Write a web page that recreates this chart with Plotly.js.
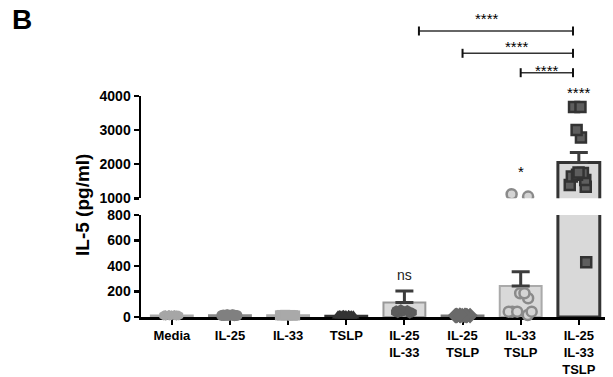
<!DOCTYPE html>
<html><head><meta charset="utf-8">
<script src="https://cdn.plot.ly/plotly-3.0.1.min.js"></script>
<style>html,body{margin:0;padding:0;background:#fff}#chart{width:613px;height:377px}</style>
</head><body><div id="chart"></div>
<script>
// ---- data ----
const categories = ["Media","IL-25","IL-33","TSLP","IL-25<br>IL-33","IL-25<br>TSLP","IL-33<br>TSLP","IL-25<br>IL-33<br>TSLP"];
const valsMedia      = [10,14,12,16,11,13,15,12,14,10,13,15];
const valsIL25       = [12,15,18,10,14,16,13,11,17,12,15,14];
const valsIL33       = [14,16,12,15,13,17,11,14,16,12,15,13];
const valsTSLP       = [8,11,10,12,9,13,10,11,12,9,10,11];
const valsIL25IL33   = [55,48,40,35,60,45,30,50,38,42,25,52];
const valsIL25TSLP   = [10,12,14,11,13,12,10,14,11,13,12,11];
const valsIL33TSLP   = [1050,1120,186,147,186,42,42,42,42,16];
const valsTriple     = [3680,3680,3000,2780,1760,1740,1690,1640,1540,1390,1340,430];
const barMeans = [12,14,14,10,114,12,243,2050];
const barSEM   = [1,1,1,1,90,1,112,290];
const lowerTicks = [0,200,400,600,800];
const upperTicks = [1000,2000,3000,4000];
const sigLabels = ["ns","*","****"];

const groupValues = [valsMedia,valsIL25,valsIL33,valsTSLP,valsIL25IL33,valsIL25TSLP,valsIL33TSLP,valsTriple];

// ---- styles ----
const FONT = "Liberation Sans, Arial, sans-serif";
const BREAK_LOW = 800;
const markerStyles = [
  {symbol:'hexagon', color:'#a6a6a6', size:10, line:{width:0}},
  {symbol:'circle', color:'#808080', size:11, line:{width:0}},
  {symbol:'square', color:'#a9a9a9', size:10, line:{width:0}},
  {symbol:'triangle-up', color:'#333333', size:11, line:{width:0}},
  {symbol:'hexagon', color:'#5c5c5c', size:10, line:{width:0}},
  {symbol:'diamond', color:'#6a6a6a', size:12, line:{width:0}},
  {symbol:'circle', color:'#d4d4d4', size:10, line:{width:2.5, color:'#8a8a8a'}},
  {symbol:'square', color:'#5e5e5e', size:10, line:{width:2.5, color:'#333333'}}
];
const jitters = [0.68,0.68,0.68,0.68,0.8,0.68,1,1];
const barLineColors = ['#aaaaaa','#888888','#aaaaaa','#333333','#999999','#777777','#aaaaaa','#333333'];
const barLineWidths = [2,2,2,2,2,2,2,3];

const traces = [];
const errStyle = {type:'data', symmetric:false, color:'#3c3c3c', thickness:3, width:9, visible:true};

// lower bars
traces.push({
  type:'bar', x:categories, y:barMeans, xaxis:'x', yaxis:'y',
  marker:{color:'#d9d9d9', line:{color:barLineColors, width:barLineWidths}},
  error_y:Object.assign({}, errStyle, {array:barMeans.map((m,i)=> m < BREAK_LOW ? barSEM[i] : 0), arrayminus:barMeans.map(()=>0)}),
  hoverinfo:'skip'
});
// upper bars
traces.push({
  type:'bar', x:categories, y:barMeans.map(m=> m > BREAK_LOW ? m : null), xaxis:'x', yaxis:'y2',
  marker:{color:'#d9d9d9', line:{color:barLineColors, width:barLineWidths}},
  error_y:Object.assign({}, errStyle, {array:barSEM, arrayminus:barMeans.map(()=>0)}),
  hoverinfo:'skip'
});
// invisible mean markers (lets the lower subplot use per-layer clipping)
traces.push({
  type:'scatter', mode:'markers', x:categories, y:barMeans.map(m=> m < BREAK_LOW ? m : null),
  xaxis:'x', yaxis:'y', cliponaxis:false, marker:{opacity:0, size:1}, hoverinfo:'skip'
});

// points (split over the broken axis)
groupValues.forEach((vals, gi) => {
  const low = vals.filter(v => v <= BREAK_LOW);
  const high = vals.filter(v => v > BREAK_LOW);
  [[low,'y'],[high,'y2']].forEach(([vs, ya]) => {
    if (!vs.length) return;
    traces.push({
      type:'box', x:vs.map(()=>categories[gi]), y:vs, xaxis:'x', yaxis:ya,
      boxpoints:'all', jitter:jitters[gi], pointpos:0,
      line:{width:0}, fillcolor:'rgba(0,0,0,0)', whiskerwidth:0,
      marker:markerStyles[gi], hoveron:'points'
    });
  });
});

function ptop(px){ return (317 - px) / 221; }

const annotations = [
  {text:'<b>B</b>', xref:'paper', yref:'paper', x:-0.282, y:ptop(2), xanchor:'left', yanchor:'top', showarrow:false, font:{size:28, family:FONT, color:'#000'}},
  {text:'<b>IL-5 (pg/ml)</b>', xref:'paper', yref:'paper', x:-0.125, y:0.507, textangle:-90, xanchor:'center', yanchor:'middle', showarrow:false, font:{size:19, family:FONT, color:'#000'}},
  {text:sigLabels[0], xref:'x', yref:'y', x:categories[4], y:barMeans[4]+barSEM[4], yshift:16, yanchor:'middle', showarrow:false, font:{size:14, family:FONT, color:'#222'}},
  {text:sigLabels[1], xref:'x', yref:'y2', x:categories[6], y:Math.max(...valsIL33TSLP), yshift:23, yanchor:'middle', showarrow:false, font:{size:15, family:FONT, color:'#000'}},
  {text:sigLabels[2], xref:'x', yref:'y2', x:categories[7], y:Math.max(...valsTriple), yshift:14, yanchor:'middle', showarrow:false, font:{size:15, family:FONT, color:'#000'}},
  {text:sigLabels[2], xref:'x', yref:'paper', x:5.42, y:ptop(18.5), yanchor:'middle', showarrow:false, font:{size:15, family:FONT, color:'#000'}},
  {text:sigLabels[2], xref:'x', yref:'paper', x:5.93, y:ptop(46.5), yanchor:'middle', showarrow:false, font:{size:15, family:FONT, color:'#000'}},
  {text:sigLabels[2], xref:'x', yref:'paper', x:6.45, y:ptop(70.2), yanchor:'middle', showarrow:false, font:{size:15, family:FONT, color:'#000'}}
];

const brackets = [[4.25, 6.9, 31], [5.0, 6.9, 53.3], [6.0, 6.9, 72.7]];
const shapes = [];
brackets.forEach(([a,b,py]) => {
  const y = ptop(py), h = 4.5/221;
  shapes.push({type:'line', xref:'x', yref:'paper', x0:a, x1:b, y0:y, y1:y, line:{color:'#333', width:1.5}});
  shapes.push({type:'line', xref:'x', yref:'paper', x0:a, x1:a, y0:y-h, y1:y+h, line:{color:'#111', width:2}});
  shapes.push({type:'line', xref:'x', yref:'paper', x0:b, x1:b, y0:y-h, y1:y+h, line:{color:'#111', width:2}});
});

const yStyle = {
  showline:true, linecolor:'#000', linewidth:2.5, ticks:'outside', ticklen:5, tickwidth:2.5, tickcolor:'#000',
  tickfont:{size:14, family:FONT, color:'#000', weight:'bold'}, showgrid:false, zeroline:false,
  anchor:'x', layer:'below traces', fixedrange:true
};

const layout = {
  width:613, height:377,
  margin:{l:141, r:8, t:96, b:60},
  paper_bgcolor:'#ffffff', plot_bgcolor:'rgba(0,0,0,0)',
  showlegend:false, barmode:'overlay', bargap:0.28, boxmode:'overlay', boxgap:0.3,
  font:{family:FONT, color:'#000'},
  xaxis:{type:'category', range:[-0.53, 7.45], showline:true, linecolor:'#000', linewidth:2.5,
    ticks:'outside', ticklen:5, tickwidth:2, tickcolor:'#000',
    tickfont:{size:13, family:FONT, color:'#000', weight:'bold'},
    showgrid:false, zeroline:false, anchor:'y', layer:'below traces', fixedrange:true},
  yaxis:Object.assign({}, yStyle, {domain:[0, 0.4615], range:[0, 800], tickvals:lowerTicks}),
  yaxis2:Object.assign({}, yStyle, {domain:[0.537, 1], range:[1000, 4000], tickvals:upperTicks}),
  annotations:annotations, shapes:shapes
};

Plotly.newPlot('chart', traces, layout, {staticPlot:true, displayModeBar:false}).then(gd => {
  // let the points sitting on the zero line show in full (as in the reference)
  gd.querySelectorAll('.subplot.xy .boxlayer').forEach(el => el.removeAttribute('clip-path'));
});
</script></body></html>
